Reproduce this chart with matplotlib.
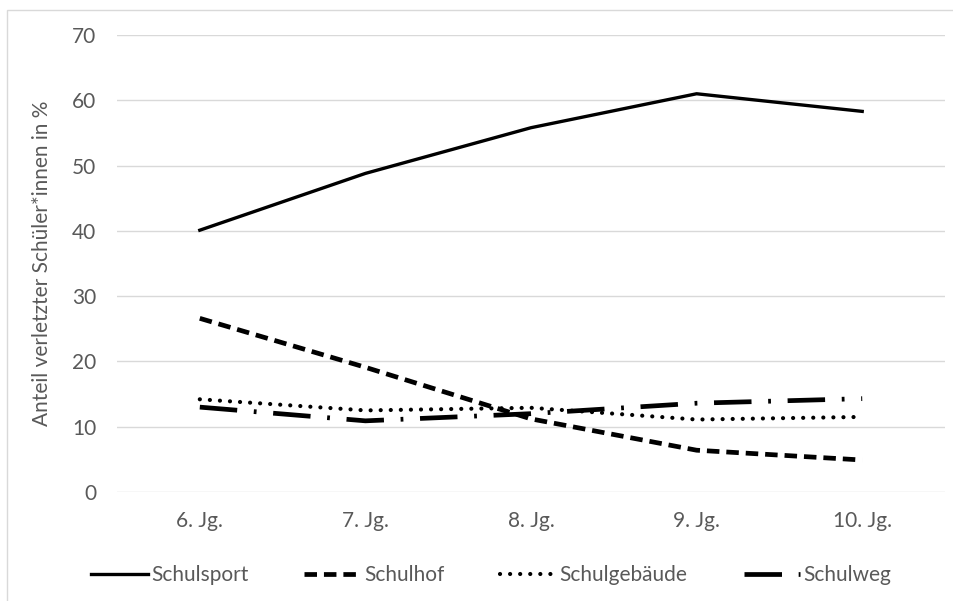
import matplotlib
matplotlib.use('Agg')
import matplotlib.pyplot as plt
from matplotlib.patches import Rectangle
import numpy as np

plt.rcParams['font.family'] = ['Lato', 'DejaVu Sans']
plt.rcParams['lines.scale_dashes'] = False

jahrgaenge = ['6. Jg.', '7. Jg.', '8. Jg.', '9. Jg.', '10. Jg.']
schulsport = [40.1, 48.8, 55.8, 61.0, 58.3]
schulhof = [26.6, 19.1, 11.2, 6.4, 4.9]
schulgebaeude = [14.2, 12.5, 12.9, 11.1, 11.5]
schulweg = [13.0, 10.9, 12.0, 13.6, 14.3]

grau = '#595959'

fig = plt.figure(figsize=(9.54, 6.01), dpi=100)
ax = fig.add_axes([117/954, 1-492/601, 828/954, 457/601])

x = np.arange(len(jahrgaenge))
ax.plot(x, schulsport, color='black', lw=2.4, label='Schulsport')
ax.plot(x, schulhof, color='black', lw=3.4, dashes=(9, 5), label='Schulhof')
ax.plot(x, schulgebaeude, color='black', lw=3.0, dashes=(0.05, 7.2),
        dash_capstyle='round', label='Schulgebäude')
ax.plot(x, schulweg, color='black', lw=3.4, dashes=(27, 12, 2, 12), label='Schulweg')

ax.set_xlim(-0.5, 4.5)
ax.set_ylim(0, 70)
ax.set_yticks(range(0, 71, 10))
ax.set_xticks(x)
ax.set_xticklabels(jahrgaenge)
ax.grid(axis='y', color='#d9d9d9', lw=1)
ax.set_axisbelow(True)
for s in ax.spines.values():
    s.set_visible(False)
ax.tick_params(length=0, labelsize=15, colors=grau)
ax.tick_params(axis='y', pad=15)
ax.tick_params(axis='x', pad=14)
ax.set_ylabel('Anteil verletzter Schüler*innen in %', fontsize=15, color=grau, labelpad=14)

fig.legend(loc='center', bbox_to_anchor=(0.515, 1-575/601), ncol=4, frameon=False,
           fontsize=15, handlelength=2.7, handletextpad=0.15, columnspacing=2.7,
           labelcolor=grau)

fig.patches.append(Rectangle((7/954, -0.01), 1.0, 1-10/601+0.01, transform=fig.transFigure,
                             fill=False, edgecolor='#d9d9d9', lw=1))

fig.savefig('out.png', dpi=100)
